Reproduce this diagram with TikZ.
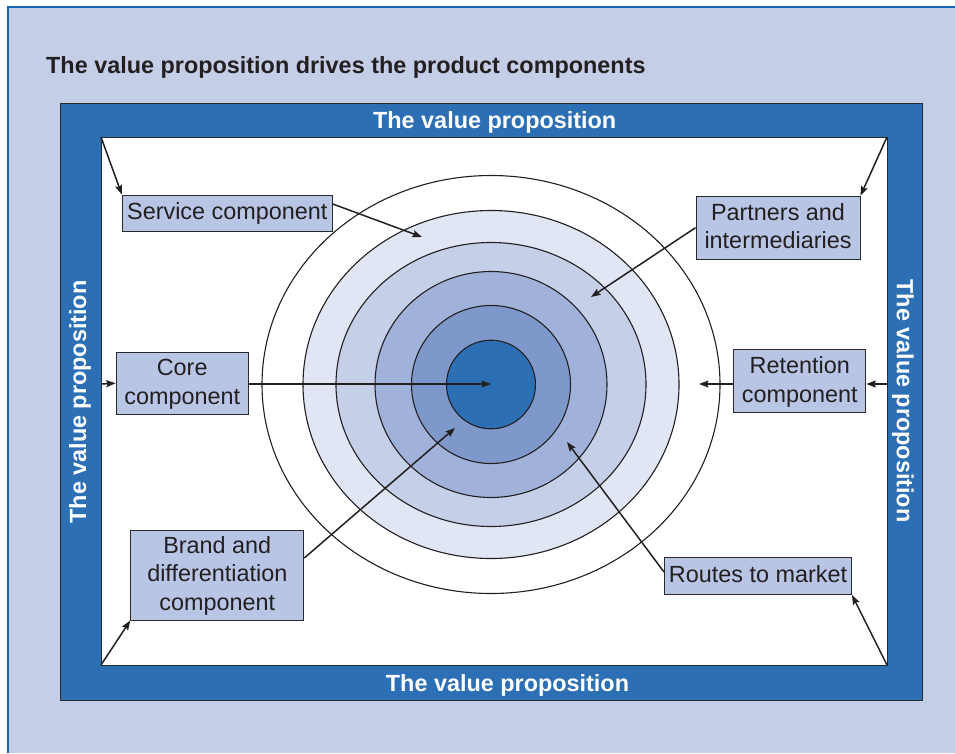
\documentclass[tikz,border=0pt]{standalone}
\usepackage{fontspec}
\setmainfont{Liberation Sans}
\usetikzlibrary{arrows.meta,calc}
\definecolor{bg}{HTML}{C5CEE7}
\definecolor{edgeblue}{HTML}{1B63B3}
\definecolor{vblue}{HTML}{2D6FB5}
\definecolor{ringA}{HTML}{E0E6F3}
\definecolor{ringB}{HTML}{C5CFE8}
\definecolor{ringC}{HTML}{A1B2DA}
\definecolor{ringD}{HTML}{7F98CB}
\definecolor{boxfill}{HTML}{B9C5E5}
\definecolor{ink}{HTML}{231F20}
\definecolor{frameline}{HTML}{2A2A2A}
\newcommand{\lowtxt}[1]{\raisebox{-1.2pt}[\height][\depth]{\begin{tabular}{@{}c@{}}#1\end{tabular}}}
\tikzset{
  txt/.style={font=\fontsize{23.4}{28.5}\selectfont, text=ink},
  cbox/.style={txt, draw=frameline, fill=boxfill, line width=1pt, inner sep=0pt},
  vp/.style={font=\fontsize{23.4}{28.5}\selectfont\bfseries, text=white, inner sep=0pt},
  ring/.style={draw=ink, line width=1.1pt},
  arr/.style={draw=ink, line width=1.5pt, -{Stealth[length=9.5pt,width=7pt,inset=1.5pt]}},
}
\begin{document}
\begin{tikzpicture}[x=1pt,y=-1pt]
\useasboundingbox (0,0) rectangle (955,753);
\fill[bg] (7,6) rectangle (955,753);
\draw[edgeblue, line width=2.5pt] (8,753) -- (8,7) -- (955,7);

\node[anchor=base west, inner sep=0pt, font=\fontsize{23.4}{28.5}\selectfont\bfseries, text=ink] (title) at (46,73)
  {The value proposition drives the product components};

% frame
\draw[fill=vblue, draw=frameline, line width=1pt] (60,103) rectangle (922,700);
\draw[fill=white, draw=frameline, line width=1pt] (101,137) rectangle (887,665);
\coordinate (tl) at (101,137);
\coordinate (tr) at (887,137);
\coordinate (bl) at (101,665);
\coordinate (br) at (887,665);
\coordinate (lft) at (101,384);
\coordinate (rgt) at (887,384);

\node[vp, anchor=base] (vptop) at (494.7,128.5) {The value proposition};
\node[vp, anchor=base] (vpbot) at (507.5,691.5) {The value proposition};
\node[vp, rotate=90] (vpleft) at (80,402) {The value proposition};
\node[vp, rotate=-90] (vpright) at (903,401) {The value proposition};

% rings
\coordinate (c) at (491,384.5);
\draw[ring, fill=white] (c) ellipse [x radius=229pt, y radius=209pt];
\draw[ring, fill=ringA] (c) ellipse [x radius=188pt, y radius=174pt];
\draw[ring, fill=ringB] (c) ellipse [x radius=155pt, y radius=142pt];
\draw[ring, fill=ringC] (c) ellipse [x radius=116pt, y radius=113pt];
\draw[ring, fill=ringD] (c) ellipse [x radius=79.5pt, y radius=79pt];
\draw[ring, fill=vblue] (c) ellipse [x radius=44.5pt, y radius=44.3pt];

% boxes
\node[cbox, minimum width=210pt, minimum height=36pt] (service) at (227.3,213) {\lowtxt{Service component}};
\node[cbox, minimum width=164pt, minimum height=63pt] (partners) at (778,227.7) {\lowtxt{Partners and\\intermediaries}};
\node[cbox, minimum width=132pt, minimum height=62pt] (core) at (182.2,383.2) {\lowtxt{Core\\component}};
\node[cbox, minimum width=132pt, minimum height=63pt] (retention) at (799.8,381) {\lowtxt{Retention\\component}};
\node[cbox, minimum width=173pt, minimum height=90pt] (brand) at (217.3,575) {\lowtxt{Brand and\\differentiation\\component}};
\node[cbox, minimum width=187pt, minimum height=37pt] (routes) at (758,576) {\lowtxt{Routes to market}};

% free ends
\coordinate (pService) at (422,237);
\coordinate (pPartners) at (591,297);
\coordinate (pCore) at (491,384);
\coordinate (pRet) at (699,384);
\coordinate (pBrand) at (455,428);
\coordinate (pRoutes) at (567,442);

% arrows
\draw[arr] (tl) -- (service.north west);
\draw[arr] ([yshift=9pt]service.east) -- (pService);
\draw[arr] (tr) -- (partners.north east);
\draw[arr] (partners.west) -- (pPartners);
\draw[arr] (lft) -- (core.west);
\draw[arr] ([yshift=-0.8pt]core.east) -- (pCore);
\draw[arr] (rgt) -- ([yshift=-3pt]retention.east);
\draw[arr] ([yshift=-3pt]retention.west) -- (pRet);
\draw[arr] (bl) -- (brand.south west);
\draw[arr] ([yshift=17pt]brand.east) -- (pBrand);
\draw[arr] ([yshift=4pt]routes.west) -- (pRoutes);
\draw[arr] (br) -- (routes.south east);
\end{tikzpicture}
\end{document}
